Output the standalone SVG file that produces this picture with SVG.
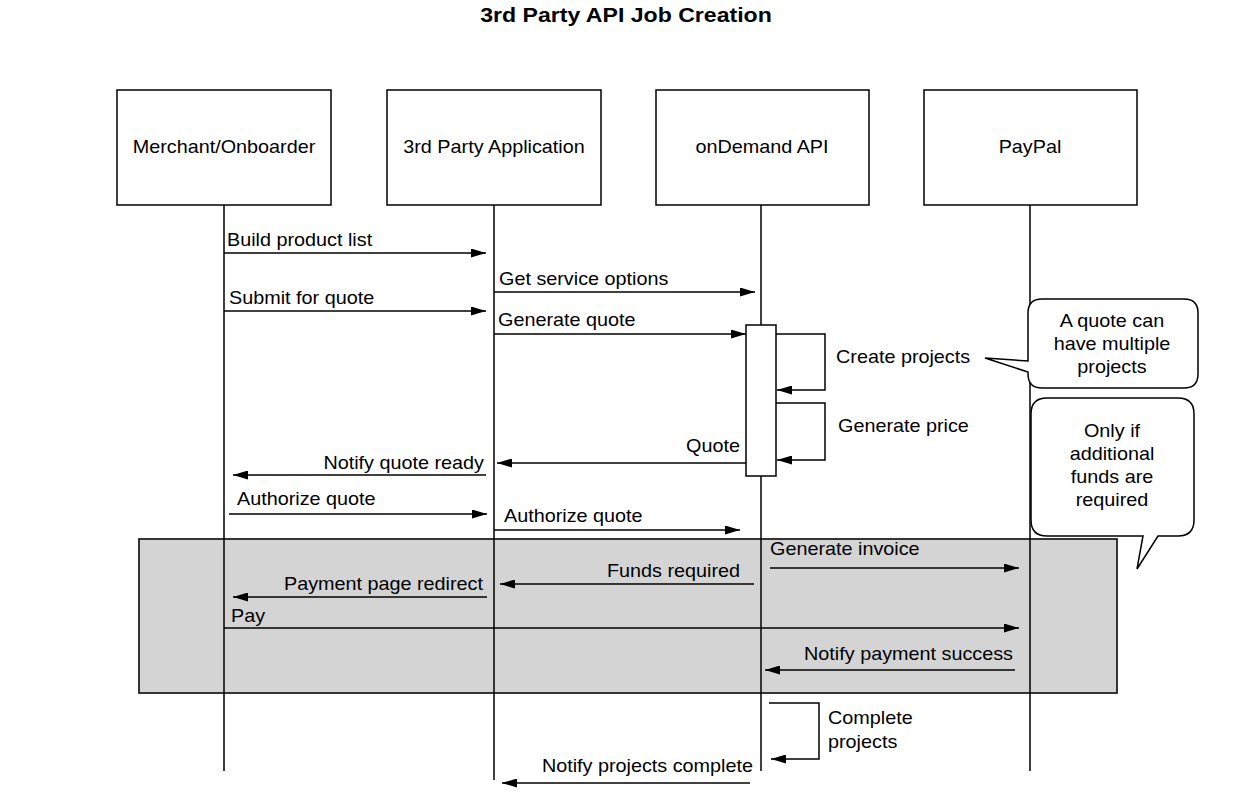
<svg xmlns="http://www.w3.org/2000/svg" width="1253" height="791" viewBox="0 0 1253 791">
<style>
text{font-family:"Liberation Sans",Arial,sans-serif;font-size:18px;fill:#000}
.title{font-size:21px;font-weight:bold}
.box{fill:#fff;stroke:#000;stroke-width:1.5}
.life{stroke:#000;stroke-width:1.5;fill:none}
.msg{stroke:#000;stroke-width:1.5;fill:none;marker-end:url(#arr)}
.note{fill:#fff;stroke:#000;stroke-width:1.5}
.grp{fill:#d4d4d4;stroke:#222;stroke-width:1.8}
</style>
<defs>
<marker id="arr" viewBox="0 0 15 9" refX="15" refY="4.5" markerWidth="15" markerHeight="9" markerUnits="userSpaceOnUse" orient="auto">
<path d="M0,0 L15,4.5 L0,9 Z" fill="#000"/>
</marker>
</defs>
<rect width="1253" height="791" fill="#fff"/>
<text class="title" text-anchor="middle" transform="translate(626,22) scale(1.1,1)">3rd Party API Job Creation</text>

<g id="fragment">
<rect class="grp" x="139" y="539" width="978" height="154"/>
</g>

<g id="merchant">
<rect class="box" x="117" y="90" width="214" height="115"/>
<line class="life" x1="224" y1="205" x2="224" y2="771"/>
<text text-anchor="middle" transform="translate(224,153) scale(1.1,1)">Merchant/Onboarder</text>
</g>
<g id="thirdparty">
<rect class="box" x="387" y="90" width="214" height="115"/>
<line class="life" x1="494" y1="205" x2="494" y2="780"/>
<text text-anchor="middle" transform="translate(494,153) scale(1.1,1)">3rd Party Application</text>
</g>
<g id="ondemand">
<rect class="box" x="656" y="90" width="213" height="115"/>
<line class="life" x1="761" y1="205" x2="761" y2="771"/>
<text text-anchor="middle" transform="translate(762,153) scale(1.1,1)">onDemand API</text>
<rect id="activation" class="box" x="746" y="325" width="30" height="151"/>
</g>
<g id="paypal">
<rect class="box" x="924" y="90" width="213" height="115"/>
<line class="life" x1="1030" y1="205" x2="1030" y2="771"/>
<text text-anchor="middle" transform="translate(1030,153) scale(1.1,1)">PayPal</text>
</g>

<g id="note1">
<path class="note" d="M1042,299 H1184 Q1198,299 1198,313 V374 Q1198,388 1184,388 H1042 Q1028,388 1028,374 V372 L985,358 L1028,361 V313 Q1028,299 1042,299 Z"/>
<text text-anchor="middle" transform="translate(1112,327) scale(1.1,1)">A quote can</text>
<text text-anchor="middle" transform="translate(1112,350) scale(1.1,1)">have multiple</text>
<text text-anchor="middle" transform="translate(1112,373) scale(1.1,1)">projects</text>
</g>
<g id="note2">
<path class="note" d="M1047,398 H1178 Q1194,398 1194,414 V520 Q1194,536 1178,536 H1158 L1137,569 L1143,536 H1047 Q1031,536 1031,520 V414 Q1031,398 1047,398 Z"/>
<text text-anchor="middle" transform="translate(1112,437) scale(1.1,1)">Only if</text>
<text text-anchor="middle" transform="translate(1112,460) scale(1.1,1)">additional</text>
<text text-anchor="middle" transform="translate(1112,483) scale(1.1,1)">funds are</text>
<text text-anchor="middle" transform="translate(1112,506) scale(1.1,1)">required</text>
</g>

<g id="connectors">
<path class="msg" d="M224,253 H486"/>
<path class="msg" d="M494,292 H755"/>
<path class="msg" d="M224,311 H486"/>
<path class="msg" d="M494,334 H746"/>
<path class="msg" d="M776,334 H825 V390 H777"/>
<path class="msg" d="M776,403 H825 V460 H777"/>
<path class="msg" d="M746,463 H497"/>
<path class="msg" d="M486,475 H233"/>
<path class="msg" d="M229,514 H487"/>
<path class="msg" d="M494,530 H740"/>
<path class="msg" d="M770,568 H1019"/>
<path class="msg" d="M754,584 H500"/>
<path class="msg" d="M487,597 H233"/>
<path class="msg" d="M224,628 H1019"/>
<path class="msg" d="M1015,670 H765"/>
<path class="msg" d="M769,703 H819 V759 H771"/>
<path class="msg" d="M750,783 H502"/>

<text transform="translate(227,246) scale(1.1,1)">Build product list</text>
<text transform="translate(499,285) scale(1.1,1)">Get service options</text>
<text transform="translate(229,304) scale(1.1,1)">Submit for quote</text>
<text transform="translate(498,326) scale(1.1,1)">Generate quote</text>
<text transform="translate(836,363) scale(1.1,1)">Create projects</text>
<text transform="translate(838,432) scale(1.1,1)">Generate price</text>
<text text-anchor="end" transform="translate(740,452) scale(1.1,1)">Quote</text>
<text text-anchor="end" transform="translate(484,469) scale(1.1,1)">Notify quote ready</text>
<text transform="translate(237,505) scale(1.1,1)">Authorize quote</text>
<text transform="translate(504,522) scale(1.1,1)">Authorize quote</text>
<text transform="translate(770,555) scale(1.1,1)">Generate invoice</text>
<text text-anchor="end" transform="translate(740,577) scale(1.1,1)">Funds required</text>
<text text-anchor="end" transform="translate(483,590) scale(1.1,1)">Payment page redirect</text>
<text transform="translate(231,622) scale(1.1,1)">Pay</text>
<text text-anchor="end" transform="translate(1013,660) scale(1.1,1)">Notify payment success</text>
<text transform="translate(828,724) scale(1.1,1)">Complete</text>
<text transform="translate(828,748) scale(1.1,1)">projects</text>
<text text-anchor="end" transform="translate(753,772) scale(1.1,1)">Notify projects complete</text>
</g>
</svg>
